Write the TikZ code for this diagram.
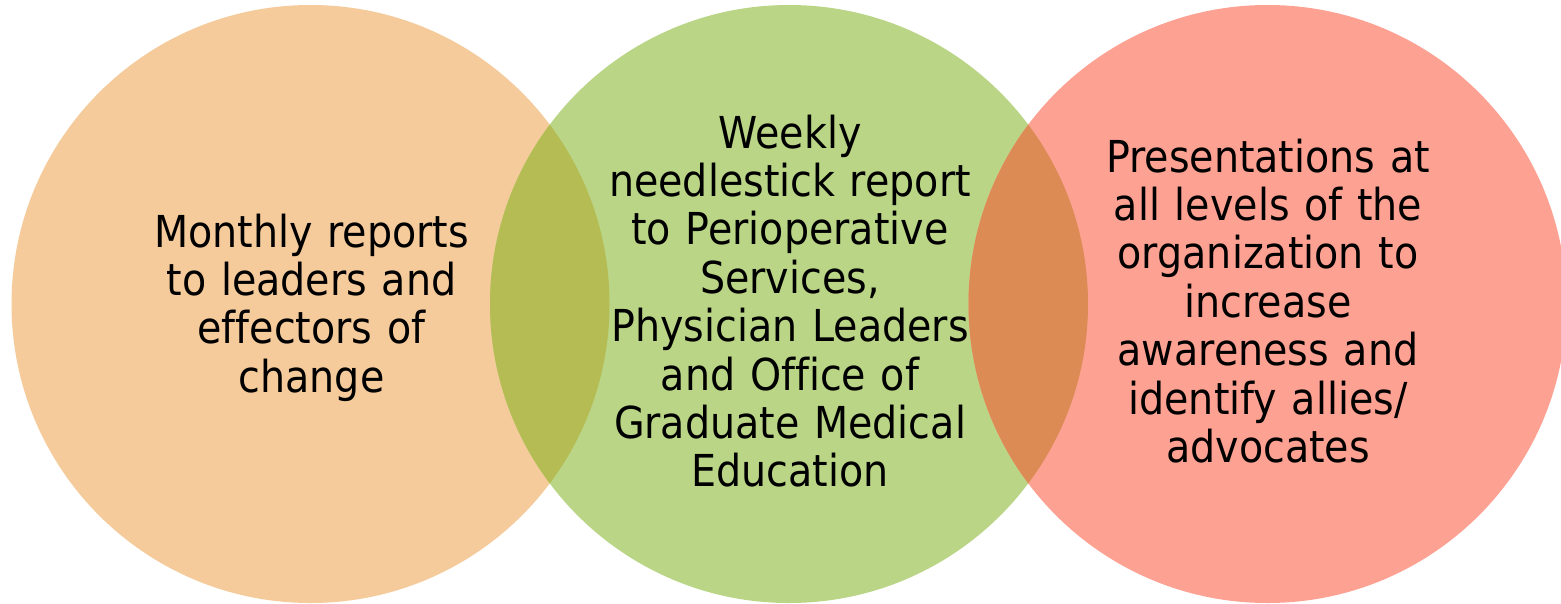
\documentclass[tikz,border=0pt]{standalone}
\usepackage{fontspec}
\setmainfont{DejaVu Sans}[FakeStretch=0.9, Ligatures=NoCommon]
\definecolor{orangefill}{HTML}{F5CB9B}
\definecolor{greenfill}{HTML}{B9D585}
\definecolor{redfill}{HTML}{FDA193}
\definecolor{olivemix}{HTML}{B5BC53}
\definecolor{ambermix}{HTML}{DB8B53}
\tikzset{
  blurb/.style={text width=400pt, align=center, anchor=base, inner sep=0pt,
    font=\fontsize{44}{48.4}\selectfont, text=black}
}
\begin{document}
\begin{tikzpicture}[x=1pt, y=-1pt]
  \useasboundingbox (0,0) rectangle (1561,603);
  \clip (0,0) rectangle (1561,603);
  \fill[white] (0,0) rectangle (1561,603);
  % the three circles
  \coordinate (c1) at (310.5,304);
  \coordinate (c2) at (789,304);
  \coordinate (c3) at (1267.5,304);
  \fill[orangefill] (c1) circle[radius=299];
  \fill[greenfill]  (c2) circle[radius=299];
  \fill[redfill]    (c3) circle[radius=299];
  % lens-shaped overlaps
  \begin{scope}
    \clip (c1) circle[radius=299];
    \fill[olivemix] (c2) circle[radius=299];
  \end{scope}
  \begin{scope}
    \clip (c2) circle[radius=299];
    \fill[ambermix] (c3) circle[radius=299];
  \end{scope}
  % texts
  \node[blurb] (left) at (311.5,247)
    {Monthly reports\\to leaders and\\effectors of\\change};
  \node[blurb] (middle) at (790,148)
    {Weekly\\needlestick report\\to Perioperative\\Services,\\Physician Leaders\\and Office of\\Graduate Medical\\Education};
  \node[blurb] (right) at (1268,172)
    {Presentations at\\all levels of the\\organization to\\increase\\awareness and\\identify allies/\\advocates};
\end{tikzpicture}
\end{document}
